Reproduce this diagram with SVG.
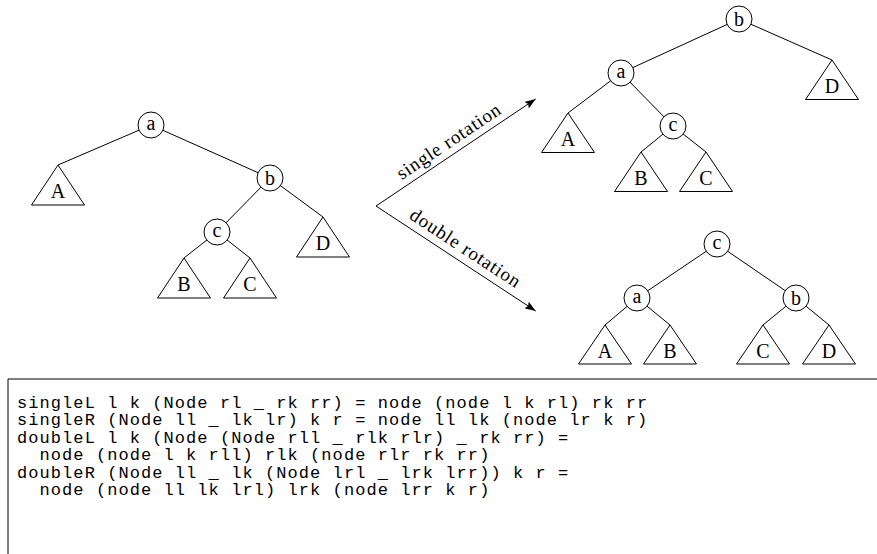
<svg xmlns="http://www.w3.org/2000/svg" width="877" height="554" viewBox="0 0 877 554">
  <style>
    .edge { stroke: #000; stroke-width: 1; fill: none; }
    .node circle { fill: #fff; stroke: #000; stroke-width: 1; }
    .sub polygon { fill: #fff; stroke: #000; stroke-width: 1; stroke-linejoin: miter; }
    .lbl { font-family: "Liberation Serif", "DejaVu Serif", serif; font-size: 20px; text-anchor: middle; fill: #000; }
    .rot { font-family: "Liberation Serif", "DejaVu Serif", serif; font-size: 19px; text-anchor: middle; fill: #000; }
    .code { font-family: "Liberation Mono", "DejaVu Sans Mono", monospace; font-size: 17px; letter-spacing: 1.07px; fill: #000; white-space: pre; }
    .frame { stroke: #000; stroke-width: 1; fill: none; }
  </style>
  <defs>
    <!-- filled arrowhead for the rotation arrows -->
    <marker id="tip" markerUnits="userSpaceOnUse" markerWidth="12" markerHeight="8" refX="11" refY="4" orient="auto">
      <path d="M0,0 L11,4 L0,8 L2,4 z" fill="#000"/>
    </marker>
  </defs>

  <!-- connectors -->
  <g id="connectors">
    <!-- left tree -->
    <line class="edge" x1="151" y1="125" x2="58" y2="165"/>
    <line class="edge" x1="151" y1="125" x2="270" y2="178"/>
    <line class="edge" x1="270" y1="178" x2="217" y2="232"/>
    <line class="edge" x1="270" y1="178" x2="323" y2="217"/>
    <line class="edge" x1="217" y1="232" x2="184" y2="258"/>
    <line class="edge" x1="217" y1="232" x2="250" y2="258"/>
    <!-- single rotation result -->
    <line class="edge" x1="739" y1="19" x2="621" y2="73"/>
    <line class="edge" x1="739" y1="19" x2="832" y2="60"/>
    <line class="edge" x1="621" y1="73" x2="568" y2="113"/>
    <line class="edge" x1="621" y1="73" x2="673" y2="126"/>
    <line class="edge" x1="673" y1="126" x2="641" y2="152"/>
    <line class="edge" x1="673" y1="126" x2="706" y2="152"/>
    <!-- double rotation result -->
    <line class="edge" x1="717" y1="244" x2="637" y2="298"/>
    <line class="edge" x1="717" y1="244" x2="796" y2="298"/>
    <line class="edge" x1="637" y1="298" x2="605" y2="325"/>
    <line class="edge" x1="637" y1="298" x2="670" y2="325"/>
    <line class="edge" x1="796" y1="298" x2="763" y2="325"/>
    <line class="edge" x1="796" y1="298" x2="829" y2="325"/>
    <!-- rotation arrows -->
    <line class="edge" x1="376" y1="206" x2="535.7" y2="99" marker-end="url(#tip)"/>
    <line class="edge" x1="376" y1="206" x2="535.7" y2="311" marker-end="url(#tip)"/>
    <text class="rot" transform="translate(455.8,152.5) rotate(-33.8)" y="-7" textLength="121" lengthAdjust="spacing">single rotation</text>
    <text class="rot" transform="translate(458,259) rotate(33.3)" y="-7" textLength="128" lengthAdjust="spacing">double rotation</text>
  </g>

  <!-- left tree -->
  <g id="L-a" class="node"><circle cx="151" cy="125" r="13"/><text class="lbl" x="151" y="129.5">a</text></g>
  <g id="L-b" class="node"><circle cx="270" cy="178" r="13"/><text class="lbl" x="270" y="184.5">b</text></g>
  <g id="L-c" class="node"><circle cx="217" cy="232" r="13"/><text class="lbl" x="217" y="236.5">c</text></g>
  <g id="L-A" class="sub"><polygon points="58,165 31.5,205 84.5,205"/><text class="lbl" x="58" y="198">A</text></g>
  <g id="L-B" class="sub"><polygon points="184,258 157.5,298 210.5,298"/><text class="lbl" x="184" y="291">B</text></g>
  <g id="L-C" class="sub"><polygon points="250,258 223.5,298 276.5,298"/><text class="lbl" x="250" y="291">C</text></g>
  <g id="L-D" class="sub"><polygon points="323,217 296.5,257 349.5,257"/><text class="lbl" x="323" y="250">D</text></g>

  <!-- single rotation tree -->
  <g id="S-b" class="node"><circle cx="739" cy="19" r="13"/><text class="lbl" x="739" y="25.5">b</text></g>
  <g id="S-a" class="node"><circle cx="621" cy="73" r="13"/><text class="lbl" x="621" y="77.5">a</text></g>
  <g id="S-c" class="node"><circle cx="673" cy="126" r="13"/><text class="lbl" x="673" y="130.5">c</text></g>
  <g id="S-A" class="sub"><polygon points="568,113 541.5,152.5 594.5,152.5"/><text class="lbl" x="568" y="146">A</text></g>
  <g id="S-B" class="sub"><polygon points="641,152 614.5,191.5 667.5,191.5"/><text class="lbl" x="641" y="185">B</text></g>
  <g id="S-C" class="sub"><polygon points="706,152 679.5,191.5 732.5,191.5"/><text class="lbl" x="706" y="185">C</text></g>
  <g id="S-D" class="sub"><polygon points="832,60 805.5,99.5 858.5,99.5"/><text class="lbl" x="832" y="93">D</text></g>

  <!-- double rotation tree -->
  <g id="D-c" class="node"><circle cx="717" cy="244" r="13"/><text class="lbl" x="717" y="248.5">c</text></g>
  <g id="D-a" class="node"><circle cx="637" cy="298" r="13"/><text class="lbl" x="637" y="302.5">a</text></g>
  <g id="D-b" class="node"><circle cx="796" cy="298" r="13"/><text class="lbl" x="796" y="304.5">b</text></g>
  <g id="D-A" class="sub"><polygon points="605,325 578.5,364 631.5,364"/><text class="lbl" x="605" y="357.5">A</text></g>
  <g id="D-B" class="sub"><polygon points="670,325 643.5,364 696.5,364"/><text class="lbl" x="670" y="357.5">B</text></g>
  <g id="D-C" class="sub"><polygon points="763,325 736.5,364 789.5,364"/><text class="lbl" x="763" y="357.5">C</text></g>
  <g id="D-D" class="sub"><polygon points="829,325 802.5,364 855.5,364"/><text class="lbl" x="829" y="357.5">D</text></g>

  <!-- code listing -->
  <g id="code">
    <path class="frame" d="M877,379 H8 V554"/>
    <text class="code" x="17" y="407.5" xml:space="preserve">singleL l k (Node rl _ rk rr) = node (node l k rl) rk rr</text>
    <text class="code" x="17" y="425" xml:space="preserve">singleR (Node ll _ lk lr) k r = node ll lk (node lr k r)</text>
    <text class="code" x="17" y="442.5" xml:space="preserve">doubleL l k (Node (Node rll _ rlk rlr) _ rk rr) =</text>
    <text class="code" x="17" y="460" xml:space="preserve">  node (node l k rll) rlk (node rlr rk rr)</text>
    <text class="code" x="17" y="477.5" xml:space="preserve">doubleR (Node ll _ lk (Node lrl _ lrk lrr)) k r =</text>
    <text class="code" x="17" y="495" xml:space="preserve">  node (node ll lk lrl) lrk (node lrr k r)</text>
  </g>
</svg>
